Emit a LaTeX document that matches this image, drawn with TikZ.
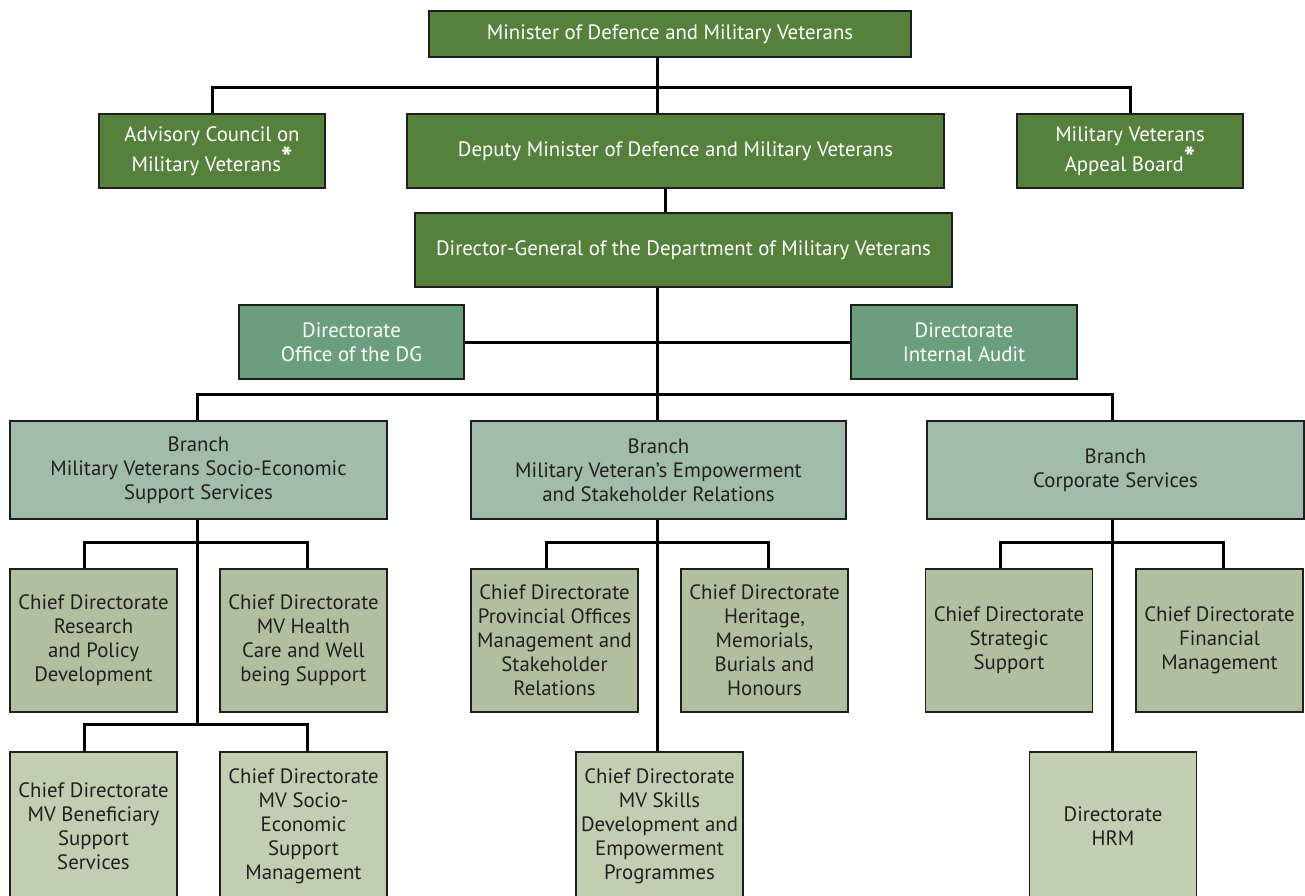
\documentclass[tikz,border=0pt]{standalone}
\usepackage{fontspec}
\setmainfont{PT Sans}
\definecolor{topgreen}{RGB}{85,129,60}
\definecolor{dirgreen}{RGB}{107,158,124}
\definecolor{branchgreen}{RGB}{161,188,170}
\definecolor{chiefa}{RGB}{177,190,160}
\definecolor{chiefb}{RGB}{194,205,178}
\definecolor{darktext}{RGB}{35,31,32}
\definecolor{edgecol}{RGB}{30,30,30}
\newcommand{\starmark}{\raisebox{0.12em}{\fontsize{30}{24}\selectfont\bfseries *}}
\tikzset{
  box/.style={draw=edgecol, line width=1.6pt, inner sep=0pt, align=center,
    font=\fontsize{20.8}{24}\selectfont},
  topbox/.style={box, fill=topgreen, text=white},
  dirbox/.style={box, fill=dirgreen, text=white},
  branchbox/.style={box, fill=branchgreen, text=darktext},
  chiefbox/.style={box, fill=chiefa, text=darktext, minimum width=167pt, minimum height=143pt},
  lowbox/.style={box, fill=chiefb, text=darktext, minimum width=167pt, minimum height=148pt},
  conn/.style={draw=black, line width=3pt},
}
\begin{document}
\begin{tikzpicture}[x=1pt,y=-1pt]
\useasboundingbox (0,0) rectangle (1305,895);

\coordinate (t) at (657,87);
\coordinate (dd) at (665,200);
\coordinate (g) at (657,394);
\coordinate (h1) at (197,542);
\coordinate (h1b) at (197,724);
\coordinate (d11) at (84,542);
\coordinate (d12) at (307,542);
\coordinate (d11b) at (84,724);
\coordinate (d12b) at (307,724);
\coordinate (h2) at (657,542);
\coordinate (d21) at (546,542);
\coordinate (d22) at (768,542);
\coordinate (h3) at (1112,542);
\coordinate (d31) at (1000,542);
\coordinate (d32) at (1223,542);

\node[topbox, minimum width=482pt, minimum height=46pt] (min) at (670,34) {Minister of Defence and Military Veterans};
\node[topbox, minimum width=226pt, minimum height=74pt] (adv) at (212,151) {Advisory Council on\\Military Veterans\starmark};
\node[topbox, minimum width=537pt, minimum height=74pt] (dep) at (675.5,151) {Deputy Minister of Defence and Military Veterans};
\node[topbox, minimum width=226pt, minimum height=74pt] (apb) at (1130,151) {Military Veterans\\Appeal Board\starmark};
\node[topbox, minimum width=537pt, minimum height=74pt] (dg) at (683.5,250) {Director-General of the Department of Military Veterans};
\node[dirbox, minimum width=225pt, minimum height=74pt] (dog) at (351.5,342) {Directorate\\Office of the DG};
\node[dirbox, minimum width=226pt, minimum height=74pt] (dia) at (964,342) {Directorate\\Internal Audit};
\node[branchbox, minimum width=377pt, minimum height=98pt] (b1) at (198.5,470) {Branch\\Military Veterans Socio-Economic\\Support Services};
\node[branchbox, minimum width=375pt, minimum height=98pt] (b2) at (658.5,470) {Branch\\Military Veteran’s Empowerment\\and Stakeholder Relations};
\node[branchbox, minimum width=377pt, minimum height=98pt] (b3) at (1115.5,470) {Branch\\Corporate Services};

\node[chiefbox] (c11) at (93.5,640.5) {Chief Directorate\\Research\\and Policy\\Development};
\node[chiefbox] (c12) at (303.5,640.5) {Chief Directorate\\MV Health\\Care and Well\\being Support};
\node[lowbox] (c13) at (93.5,826) {Chief Directorate\\MV Beneficiary\\Support\\Services};
\node[lowbox] (c14) at (303.5,826) {Chief Directorate\\MV Socio-\\Economic\\Support\\Management};

\node[chiefbox] (c21) at (554.5,640.5) {Chief Directorate\\Provincial Offices\\Management and\\Stakeholder\\Relations};
\node[chiefbox] (c22) at (764.5,640.5) {Chief Directorate\\Heritage,\\Memorials,\\Burials and\\Honours};
\node[lowbox] (c23) at (659.5,826) {Chief Directorate\\MV Skills\\Development and\\Empowerment\\Programmes};

\node[chiefbox] (c31) at (1009,640.5) {Chief Directorate\\Strategic\\Support};
\node[chiefbox] (c32) at (1219.5,640.5) {Chief Directorate\\Financial\\Management};
\node[lowbox] (c33) at (1113,826) {Directorate\\HRM};

\draw[conn] (min.south -| t) -- (dep.north -| t);
\draw[conn] (adv.north) |- (t) -| (apb.north);
\draw[conn] (dep.south -| dd) -- (dg.north -| dd);
\draw[conn] (dg.south -| g) -- (g);
\draw[conn] (dog.east) -- (dia.west);
\draw[conn] (b1.north -| h1) |- (g) -| (b3.north -| h3);
\draw[conn] (g) -- (b2.north -| g);

\draw[conn] (b1.south -| h1) -- (h1b);
\draw[conn] (d11 |- c11.north) -- (d11) -- (d12) -- (d12 |- c12.north);
\draw[conn] (d11b |- c13.north) -- (d11b) -- (d12b) -- (d12b |- c14.north);

\draw[conn] (b2.south -| h2) -- (h2 |- c23.north);
\draw[conn] (d21 |- c21.north) -- (d21) -- (d22) -- (d22 |- c22.north);

\draw[conn] (b3.south -| h3) -- (h3 |- c33.north);
\draw[conn] (d31 |- c31.north) -- (d31) -- (d32) -- (d32 |- c32.north);
\end{tikzpicture}
\end{document}
